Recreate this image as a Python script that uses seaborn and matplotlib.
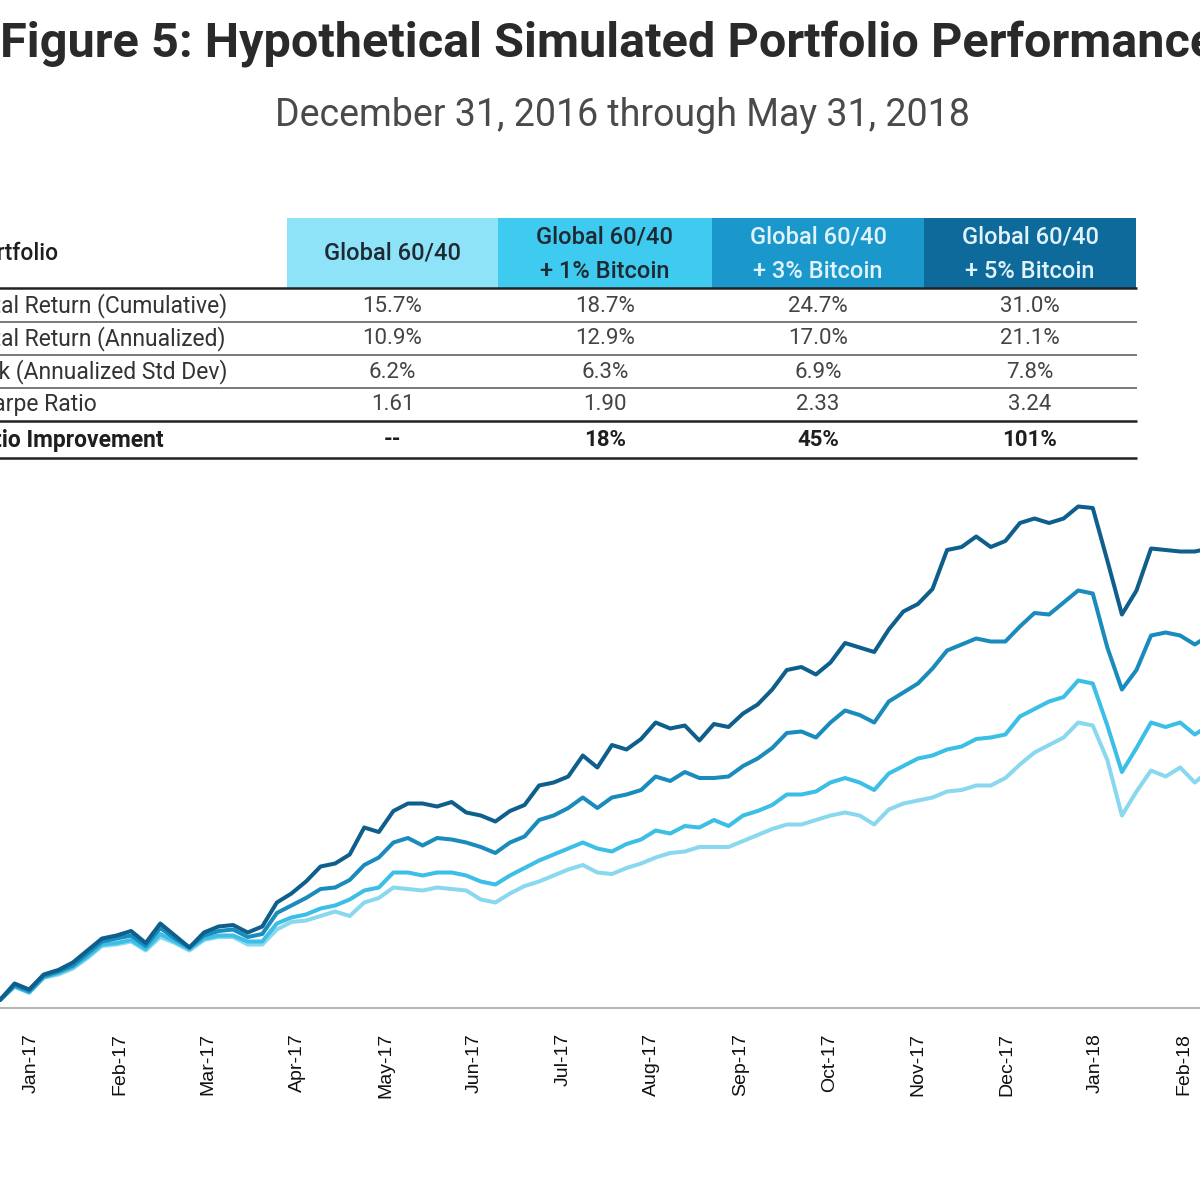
import numpy as np
import pandas as pd
import matplotlib
matplotlib.use('Agg')
import matplotlib.pyplot as plt
import seaborn as sns
from matplotlib.patches import Rectangle

# --- data ---
title = 'Figure 5: Hypothetical Simulated Portfolio Performance'
subtitle = 'December 31, 2016 through May 31, 2018'

portfolios = ['Global 60/40', 'Global 60/40\n+ 1% Bitcoin',
              'Global 60/40\n+ 3% Bitcoin', 'Global 60/40\n+ 5% Bitcoin']
row_labels = ['Total Return (Cumulative)', 'Total Return (Annualized)',
              'Risk (Annualized Std Dev)', 'Sharpe Ratio', 'Ratio Improvement']
ret_cumulative = ['15.7%', '18.7%', '24.7%', '31.0%']
ret_annualized = ['10.9%', '12.9%', '17.0%', '21.1%']
risk_std = ['6.2%', '6.3%', '6.9%', '7.8%']
sharpe = ['1.61', '1.90', '2.33', '3.24']
sharpe_improvement = ['--', '18%', '45%', '101%']

# days since Dec 31, 2016, one point every 5 days
days = list(range(0, 420, 5))

# cumulative return, %
g6040 = [0.0, 0.9, 0.5, 1.5, 1.7, 2.1, 2.8, 3.6, 3.7, 3.9,
         3.3, 4.2, 3.8, 3.3, 4.0, 4.2, 4.2, 3.7, 3.7, 4.7,
         5.2, 5.3, 5.6, 5.9, 5.6, 6.5, 6.8, 7.5, 7.4, 7.3,
         7.5, 7.4, 7.3, 6.7, 6.5, 7.1, 7.6, 7.9, 8.3, 8.7,
         9.0, 8.5, 8.4, 8.8, 9.1, 9.5, 9.8, 9.9, 10.2, 10.2,
         10.2, 10.6, 11.0, 11.4, 11.7, 11.7, 12.0, 12.3, 12.5, 12.3,
         11.7, 12.7, 13.1, 13.3, 13.5, 13.9, 14.0, 14.3, 14.3, 14.8,
         15.7, 16.5, 17.0, 17.5, 18.5, 18.3, 16.0, 12.3, 13.9, 15.3,
         14.9, 15.5, 14.5, 15.3]
btc1 = [0.0, 0.9, 0.5, 1.5, 1.8, 2.2, 2.9, 3.7, 3.8, 4.0,
        3.4, 4.4, 3.9, 3.4, 4.1, 4.3, 4.3, 3.9, 3.9, 5.1,
        5.5, 5.7, 6.1, 6.3, 6.7, 7.3, 7.5, 8.5, 8.5, 8.3,
        8.5, 8.5, 8.3, 7.9, 7.7, 8.3, 8.8, 9.3, 9.7, 10.1,
        10.5, 10.1, 9.9, 10.4, 10.7, 11.3, 11.1, 11.6, 11.5, 12.0,
        11.6, 12.3, 12.6, 13.0, 13.7, 13.7, 13.9, 14.5, 14.8, 14.5,
        14.0, 15.1, 15.6, 16.1, 16.3, 16.7, 16.9, 17.4, 17.5, 17.7,
        18.9, 19.4, 19.9, 20.2, 21.3, 21.1, 18.3, 15.2, 16.8, 18.5,
        18.2, 18.5, 17.7, 18.3]
btc3 = [0.0, 1.0, 0.6, 1.6, 1.9, 2.3, 3.1, 3.9, 4.1, 4.3,
        3.6, 4.8, 4.1, 3.5, 4.3, 4.6, 4.7, 4.2, 4.4, 5.8,
        6.3, 6.8, 7.4, 7.5, 8.0, 9.0, 9.5, 10.5, 10.8, 10.3,
        10.8, 10.7, 10.5, 10.2, 9.8, 10.5, 10.9, 12.0, 12.3, 12.8,
        13.5, 12.8, 13.5, 13.7, 14.0, 14.9, 14.6, 15.2, 14.8, 14.8,
        14.9, 15.6, 16.1, 16.8, 17.8, 17.9, 17.5, 18.5, 19.3, 19.0,
        18.5, 19.9, 20.5, 21.1, 22.1, 23.3, 23.7, 24.1, 23.9, 23.9,
        24.9, 25.8, 25.7, 26.5, 27.3, 27.1, 23.5, 20.7, 22.0, 24.3,
        24.5, 24.3, 23.7, 24.3]
btc5 = [0.0, 1.1, 0.7, 1.7, 2.0, 2.5, 3.3, 4.1, 4.3, 4.6,
        3.8, 5.1, 4.3, 3.5, 4.5, 4.9, 5.0, 4.5, 4.9, 6.5,
        7.1, 7.9, 8.9, 9.1, 9.7, 11.5, 11.2, 12.6, 13.1, 13.1,
        12.9, 13.2, 12.5, 12.3, 11.9, 12.6, 13.0, 14.3, 14.5, 14.9,
        16.3, 15.5, 17.0, 16.7, 17.4, 18.5, 18.1, 18.3, 17.3, 18.4,
        18.2, 19.1, 19.7, 20.7, 22.0, 22.2, 21.7, 22.5, 23.8, 23.5,
        23.2, 24.7, 25.9, 26.4, 27.4, 30.0, 30.2, 30.9, 30.2, 30.6,
        31.8, 32.1, 31.8, 32.1, 32.9, 32.8, 29.3, 25.7, 27.3, 30.1,
        30.0, 29.9, 29.9, 30.1]

tick_labels = ['Jan-17', 'Feb-17', 'Mar-17', 'Apr-17', 'May-17', 'Jun-17', 'Jul-17',
               'Aug-17', 'Sep-17', 'Oct-17', 'Nov-17', 'Dec-17', 'Jan-18', 'Feb-18']

line_colors = ['#8ad8ef', '#3bbfe6', '#1a8bbd', '#0f5f8c']
head_colors = ['#8fe3f9', '#3fcaf0', '#1a98cc', '#0e6a9a']
head_text = ['#1e2a33', '#1e2a33', '#e0f2fa', '#e0f2fa']

sns.set_style('white')
plt.rcParams['font.family'] = ['Roboto', 'DejaVu Sans']

start = pd.Timestamp('2016-12-31')
dates = start + pd.to_timedelta(days, unit='D')
series = [g6040, btc1, btc3, btc5]
names = [p.replace('\n', ' ') for p in portfolios]
df = pd.concat([pd.DataFrame({'date': dates, 'ret': s, 'portfolio': n})
                for s, n in zip(series, names)], ignore_index=True)

fig = plt.figure(figsize=(12, 12), dpi=100)

# overlay in pixel coordinates for title + table (the picture is cropped at both sides)
ov = fig.add_axes([0, 0, 1, 1])
ov.set_xlim(0, 1200)
ov.set_ylim(1200, 0)
ov.axis('off')

ov.text(0, 45, title, fontsize=35, fontweight='bold', color='#2a2a2a', ha='left', va='center')
ov.text(622, 115, subtitle, fontsize=27, color='#4a4a4a', ha='center', va='center')

col_left = [287, 498, 712, 924]
col_w = [211, 214, 212, 212]
hs = 17
for i, p in enumerate(portfolios):
    ov.add_patch(Rectangle((col_left[i], 218), col_w[i], 70, facecolor=head_colors[i], lw=0))
    cx = col_left[i] + col_w[i] / 2
    parts = p.split('\n')
    if len(parts) == 1:
        ov.text(cx, 253, parts[0], fontsize=hs, fontweight='medium', color=head_text[i],
                ha='center', va='center')
    else:
        ov.text(cx, 237, parts[0], fontsize=hs, fontweight='medium', color=head_text[i],
                ha='center', va='center')
        ov.text(cx, 271, parts[1], fontsize=hs, fontweight='medium', color=head_text[i],
                ha='center', va='center')

ov.text(-31, 253, 'Portfolio', fontsize=16.5, fontweight='medium', color='#1e1e1e',
        ha='left', va='center')

rows = [ret_cumulative, ret_annualized, risk_std, sharpe, sharpe_improvement]
row_y = [306, 339, 372, 405, 440]
for r, (lab, vals) in enumerate(zip(row_labels, rows)):
    bold = r == len(rows) - 1
    ov.text(-33, row_y[r], lab, fontsize=16.5, color='#1e1e1e' if bold else '#333333',
            fontweight='bold' if bold else 'normal', ha='left', va='center')
    for i, v in enumerate(vals):
        cx = col_left[i] + col_w[i] / 2
        ov.text(cx, row_y[r], v, fontsize=16, color='#1e1e1e' if bold else '#444444',
                fontweight='bold' if bold else 'normal', ha='center', va='center')

ov.hlines([288, 421, 458], -10, 1137, color='#222222', lw=1.8)
ov.hlines([322, 355, 388], -10, 1137, color='#555555', lw=1.1)

# line chart
ax = fig.add_axes([0, 0.16, 1, 0.44])
ax.set_facecolor('none')
sns.lineplot(data=df, x='date', y='ret', hue='portfolio', hue_order=names,
             palette=line_colors, linewidth=2.9, legend=False, ax=ax)

ax.set_xlim(start, start + pd.Timedelta(days=411.8))
ax.set_ylim(-0.533, 34.667)
tick_pos = [start + pd.Timedelta(days=10.6 + 30.44 * k) for k in range(len(tick_labels))]
ax.set_xticks(tick_pos)
ax.set_xticklabels(tick_labels, rotation=90, fontsize=14, family=['Liberation Sans', 'DejaVu Sans'],
                   color='#111111')
ax.tick_params(axis='x', direction='out', length=7, width=1.2, color='#b5b5b5', pad=11)
ax.set_yticks([])
ax.set_xlabel('')
ax.set_ylabel('')
for side in ['left', 'right', 'top']:
    ax.spines[side].set_visible(False)
ax.spines['bottom'].set_color('#b5b5b5')
ax.spines['bottom'].set_linewidth(1.4)

fig.savefig('out.png', dpi=100)
